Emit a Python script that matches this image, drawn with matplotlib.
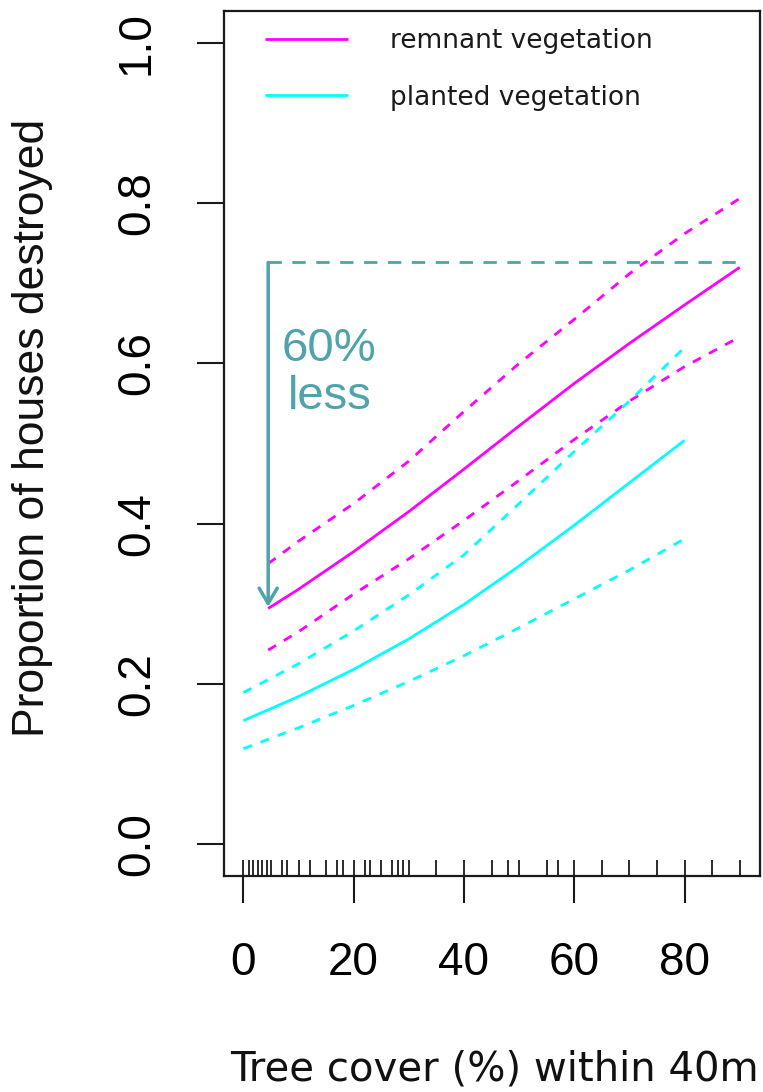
import matplotlib
matplotlib.use("Agg")
import matplotlib.pyplot as plt
from matplotlib.transforms import blended_transform_factory

# ---- data ----
rem_x = [4.5, 10, 20, 30, 40, 50, 60, 70, 80, 90]
rem_fit = [0.294, 0.318, 0.365, 0.415, 0.468, 0.522, 0.575, 0.625, 0.673, 0.720]
rem_upper = [0.350, 0.378, 0.425, 0.478, 0.540, 0.600, 0.655, 0.712, 0.762, 0.806]
rem_lower = [0.242, 0.265, 0.312, 0.356, 0.404, 0.454, 0.505, 0.553, 0.596, 0.633]

pl_x = [0, 10, 20, 30, 40, 50, 60, 70, 80]
pl_fit = [0.154, 0.184, 0.218, 0.256, 0.299, 0.347, 0.398, 0.451, 0.504]
pl_upper = [0.189, 0.225, 0.266, 0.311, 0.361, 0.425, 0.490, 0.553, 0.620]
pl_lower = [0.119, 0.145, 0.173, 0.203, 0.235, 0.270, 0.306, 0.342, 0.381]

rug_x = [0, 1, 1.8, 2.6, 3.4, 4.3, 5, 7, 8, 10, 12, 15, 17, 18, 20, 22, 23, 25,
         27, 28, 29, 30, 35, 40, 45, 48, 50, 55, 57, 60, 65, 70, 75, 80, 85, 90]

x_ticks = [0, 20, 40, 60, 80]
y_ticks = [0.0, 0.2, 0.4, 0.6, 0.8, 1.0]
y_ticklabels = ["0.0", "0.2", "0.4", "0.6", "0.8", "1.0"]

labels = ["remnant vegetation", "planted vegetation"]
xlabel = "Tree cover (%) within 40m"
ylabel = "Proportion of houses destroyed"

# annotation
arrow_x = 4.5
arrow_top = 0.726
arrow_bottom = 0.296
hline_end = 90.5
note_text = "60%\nless"

MAG = "#ff00ff"
CYA = "#00ffff"
TEAL = "#4fa3ab"

W, H = 763, 1092
fig = plt.figure(figsize=(W / 100, H / 100), dpi=100)
ax = fig.add_axes([223.5 / W, (H - 876) / H, 536.1 / W, 865 / H])
ax.set_xlim(-3.6, 93.6)
ax.set_ylim(-0.04, 1.04)

lw = 2.0
dash = (0, (3.3, 3.3))
ax.plot(rem_x, rem_fit, color=MAG, lw=lw, label=labels[0], solid_capstyle="butt")
ax.plot(rem_x, rem_upper, color=MAG, lw=lw, linestyle=dash)
ax.plot(rem_x, rem_lower, color=MAG, lw=lw, linestyle=dash)
ax.plot(pl_x, pl_fit, color=CYA, lw=lw, label=labels[1], solid_capstyle="butt")
ax.plot(pl_x, pl_upper, color=CYA, lw=lw, linestyle=dash)
ax.plot(pl_x, pl_lower, color=CYA, lw=lw, linestyle=dash)

# rug
tr = blended_transform_factory(ax.transData, ax.transAxes)
ax.vlines(rug_x, 0, 16 / 865, transform=tr, color="#1a1a1a", lw=1.3)

# annotation: dashed horizontal and arrow
ax.plot([arrow_x, hline_end], [arrow_top, arrow_top], color=TEAL, lw=2.0,
        linestyle=(0, (4.8, 3.8)))
ax.annotate("", xy=(arrow_x, arrow_bottom), xytext=(arrow_x, arrow_top),
            arrowprops=dict(arrowstyle="->,head_length=1.1,head_width=0.65",
                            color=TEAL, lw=2.5, shrinkA=0, shrinkB=0))
ax.text(15.6, 0.543, note_text, color=TEAL, fontsize=34, ha="center",
        va="baseline", family="Liberation Sans", linespacing=1.13)

# axes styling
for s in ax.spines.values():
    s.set_linewidth(1.6)
    s.set_color("#1a1a1a")
ax.set_xticks(x_ticks)
ax.set_yticks(y_ticks)
ax.set_yticklabels(y_ticklabels)
ax.tick_params(axis="both", length=19.5, width=1.5, color="#1a1a1a",
               labelsize=33, pad=27)
for t in ax.get_xticklabels():
    t.set_family("Liberation Sans")
for t in ax.get_yticklabels():
    t.set_family("Liberation Sans")
    t.set_rotation(90)
    t.set_va("center")

fig.text(33 / W, 1 - 428 / H, ylabel, rotation=90, ha="center", va="center",
         fontsize=32, family="Liberation Sans", color="#111111")
fig.text(494 / W, 1 - 1069 / H, xlabel, ha="center", va="center",
         fontsize=29, family="DejaVu Sans", color="#111111")

leg = ax.legend(loc="upper left", bbox_to_anchor=(265 / W, 1 - 28 / H),
                bbox_transform=fig.transFigure, frameon=False,
                prop={"family": "DejaVu Sans", "size": 19},
                handlelength=3.15, handletextpad=1.58, labelspacing=1.16,
                borderpad=0, borderaxespad=0)
for t in leg.get_texts():
    t.set_color("#1a1a1a")

fig.savefig("out.png", dpi=100)
